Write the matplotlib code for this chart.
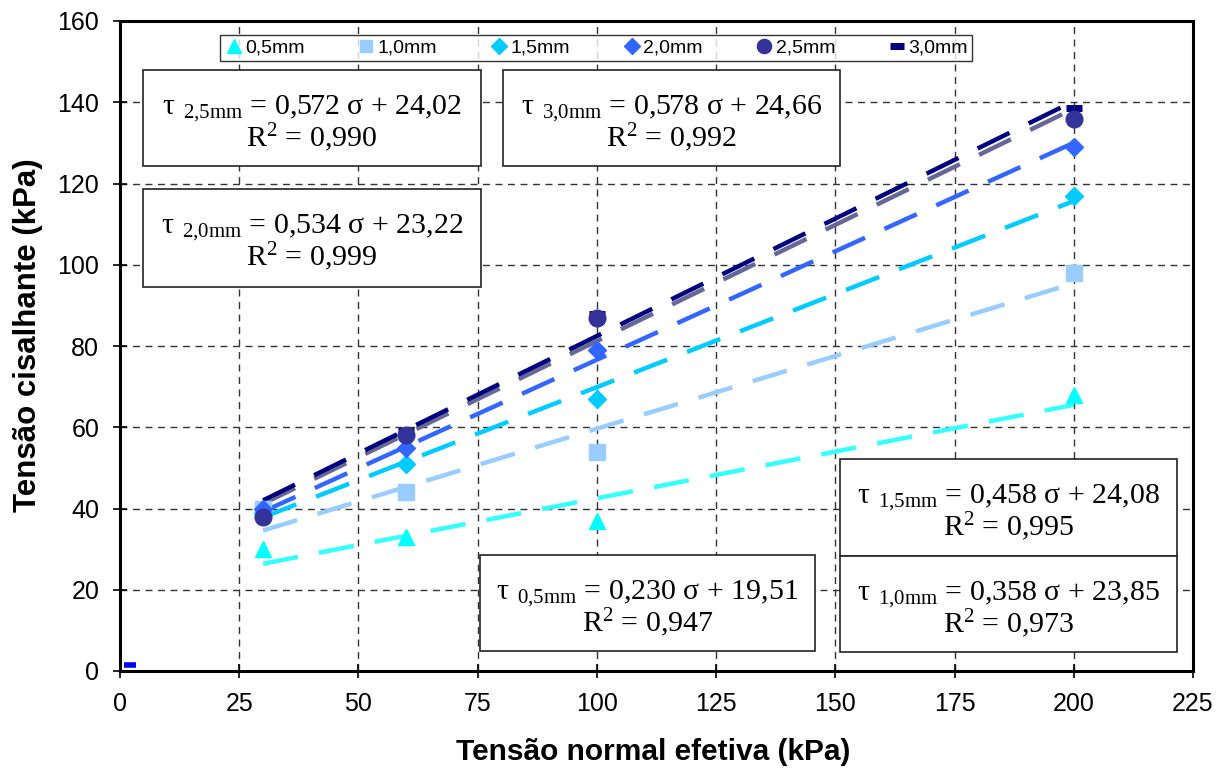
import matplotlib
matplotlib.use("Agg")
import matplotlib.pyplot as plt
from matplotlib.patches import Rectangle
import numpy as np

plt.rcParams['font.family'] = ['Liberation Sans', 'DejaVu Sans']
plt.rcParams['mathtext.fontset'] = 'custom'
plt.rcParams['mathtext.rm'] = 'Liberation Serif'
plt.rcParams['mathtext.it'] = 'Liberation Serif'
plt.rcParams['mathtext.bf'] = 'Liberation Serif:bold'

# ---------------- data ----------------
sigma = [30, 60, 100, 200]
labels = ["0,5mm", "1,0mm", "1,5mm", "2,0mm", "2,5mm", "3,0mm"]
tau_05 = [30, 33, 37, 68]
tau_10 = [40, 44, 54, 98]
tau_15 = [39, 51, 67, 117]
tau_20 = [40, 55, 79, 129]
tau_25 = [38, 58, 87, 136]
tau_30 = [40, 59, 88, 138.5]
slopes = [0.230, 0.358, 0.458, 0.534, 0.572, 0.578]
intercepts = [19.51, 23.85, 24.08, 23.22, 24.02, 24.66]
r2 = ["0,947", "0,973", "0,995", "0,999", "0,990", "0,992"]
slope_txt = ["0,230", "0,358", "0,458", "0,534", "0,572", "0,578"]
icpt_txt = ["19,51", "23,85", "24,08", "23,22", "24,02", "24,66"]
sub_txt = ["0{,}5mm", "1{,}0mm", "1{,}5mm", "2{,}0mm", "2{,}5mm", "3{,}0mm"]
stray_x = [2]
stray_y = [1.5]
xticks = list(range(0, 226, 25))
yticks = list(range(0, 161, 20))

series = [tau_05, tau_10, tau_15, tau_20, tau_25, tau_30]
mcolors = ["#00FFFF", "#99CCFF", "#00CCFF", "#3366FF", "#333399", "#000080"]
lcolors = ["#33FFFF", "#99CCFF", "#00CCFF", "#3366FF", "#666699", "#000080"]
markers = ["^", "s", "D", "D", "o", "_"]
msizes = [12, 11, 9.5, 9.5, 12, 12]

W, H = 1229, 772
fig = plt.figure(figsize=(W / 100, H / 100), dpi=100)

def fx(px):
    return px / W

def fy(py):
    return 1 - py / H

ax = fig.add_axes([fx(120), fy(671), fx(1193) - fx(120), fy(21) - fy(671)])
ax.set_xlim(0, 225)
ax.set_ylim(0, 160)
ax.set_xticks(xticks)
ax.set_yticks(yticks)
ax.tick_params(direction='inout', length=10, width=1.2, labelsize=18, pad=10)
for sp in ax.spines.values():
    sp.set_linewidth(2.2)
    sp.set_color('black')
ax.grid(True, linestyle=(0, (5, 4)), color='#333333', linewidth=1.0, zorder=0)
ax.set_axisbelow(True)

# trend lines
xl = np.array([30, 200])
for i in range(6):
    ax.plot(xl, slopes[i] * xl + intercepts[i], color=lcolors[i], lw=3.2,
            dashes=(8, 4.8), solid_capstyle='butt', dash_capstyle='butt', zorder=2)

handles = []
for i in range(6):
    if markers[i] == "_":
        h, = ax.plot(sigma, series[i], linestyle='none', marker='_', ms=msizes[i],
                     mew=5, color=mcolors[i], zorder=2.5)
    else:
        h, = ax.plot(sigma, series[i], linestyle='none', marker=markers[i], ms=msizes[i],
                     color=mcolors[i], mec=mcolors[i], zorder=3)
    handles.append(h)

ax.plot(stray_x, stray_y, linestyle='none', marker='_', ms=8, mew=4, color='#0000FF',
        zorder=4, clip_on=False)

# axis labels
fig.text(fx(653), fy(752), "Tensão normal efetiva (kPa)", ha='center', va='center',
         fontsize=21.5, fontweight='bold')
fig.text(fx(28), fy(335), "Tensão cisalhante (kPa)", ha='center', va='center',
         fontsize=22.5, fontweight='bold', rotation=90)

# equation boxes: (series index, left, top, right, bottom) in pixels
boxes = [(4, 143, 70, 481, 166), (5, 503, 70, 840, 166), (3, 143, 189, 481, 287),
         (2, 840, 459, 1177, 556), (1, 840, 556, 1177, 652), (0, 480, 555, 815, 651)]
for (i, l, t, r, b) in boxes:
    rect = Rectangle((fx(l), fy(b)), fx(r) - fx(l), fy(t) - fy(b), transform=fig.transFigure,
                     facecolor='white', edgecolor='#222222', lw=1.2, zorder=5)
    fig.patches.append(rect)
    cx = fx((l + r) / 2)
    line1 = r"$\tau_{\;\;\mathrm{" + sub_txt[i] + r"}}$" + " = " + slope_txt[i] + " σ + " + icpt_txt[i]
    line2 = r"R$^{\mathrm{2}}$" + " = " + r2[i]
    fig.text(cx, fy(t + 44), line1, ha='center', va='baseline', fontsize=21.5,
             family='Liberation Serif', zorder=6)
    fig.text(cx, fy(t + 77), line2, ha='center', va='baseline', fontsize=21.5,
             family='Liberation Serif', zorder=6)

leg = fig.legend(handles, labels, loc='center',
                 bbox_to_anchor=(fx(220), fy(62), fx(972) - fx(220), fy(34) - fy(62)),
                 ncol=6, mode='expand', frameon=True, fancybox=False, fontsize=14,
                 handletextpad=0.1, borderaxespad=0, borderpad=0.2, handlelength=1.0,
                 markerscale=0.85, columnspacing=1.0)
leg.get_frame().set_edgecolor('black')
leg.get_frame().set_linewidth(1.0)
leg.set_zorder(7)

fig.savefig("out.png", dpi=100)
